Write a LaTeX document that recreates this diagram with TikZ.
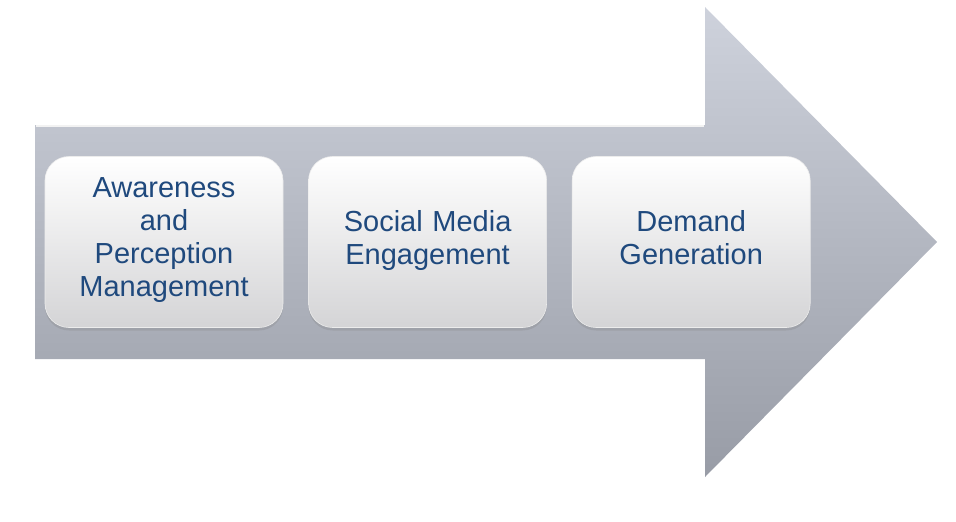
\documentclass[tikz,border=0pt]{standalone}
\usepackage{fontspec}
\setmainfont{Liberation Sans}
\usetikzlibrary{positioning,shadows}

\definecolor{arrowtop}{RGB}{206,210,220}
\definecolor{arrowbot}{RGB}{152,156,166}
\definecolor{boxbot}{RGB}{212,212,214}
\definecolor{textblue}{RGB}{31,73,125}

\begin{document}
\begin{tikzpicture}[
  x=1pt, y=-1pt,
  node distance=25pt,
  stage/.style={rounded corners=24pt, align=center, text width=226pt,
    minimum width=238pt, minimum height=171pt, inner sep=0pt,
    top color=white, bottom color=boxbot, draw=white!85!gray, line width=0.6pt,
    drop shadow={shadow xshift=0pt, shadow yshift=-3pt, opacity=0.25},
    text=textblue, font=\fontsize{29}{33}\selectfont,
    execute at end node=\strut}
]
\useasboundingbox (0,0) rectangle (956,522);
% big arrow behind the stages
\shade[top color=arrowtop, bottom color=arrowbot]
  (35,125) -- (705,125) -- (705,7) -- (937,242) -- (705,477) -- (705,359) -- (35,359) -- cycle;
\draw[white!90!gray, line width=1.2pt] (36,126) -- (704,126);

\node[stage] (aware) at (164,242) {Awareness\\and\\Perception\\Management};
\node[stage, right=of aware] (social) {Social Media\\Engagement};
\node[stage, right=of social] (demand) {Demand\\Generation};
\end{tikzpicture}
\end{document}
